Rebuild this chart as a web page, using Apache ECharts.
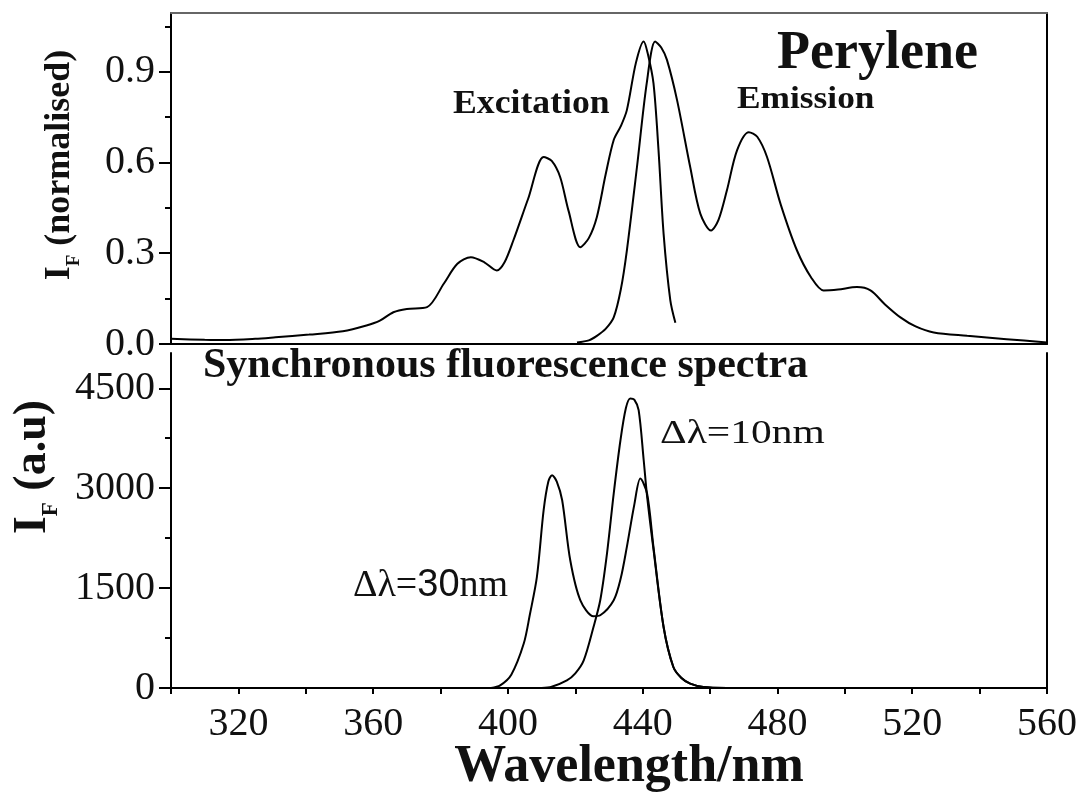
<!DOCTYPE html>
<html>
<head>
<meta charset="utf-8">
<title>Perylene spectra</title>
<script src="https://cdn.jsdelivr.net/npm/echarts@6/dist/echarts.min.js"></script>
<style>
  html, body { margin: 0; padding: 0; background: #fff; }
  #chart { width: 1086px; height: 796px; }
</style>
</head>
<body>
<div id="chart"></div>
<script>
// top panel: normalised excitation / emission (wavelength nm, intensity)
const excitationNm = [300, 310, 316, 325, 331, 341, 351, 358, 362, 366, 370, 376, 381, 385, 389, 393, 396.7, 399, 401.6, 406, 410.6, 413, 415.5, 418, 421.5, 424, 426.4, 429, 431.4, 433.5, 435.3, 438, 440.3, 441.5, 443.2, 444.7, 446.2, 448.2, 449.7];
const excitationVal = [0.017, 0.014, 0.013, 0.017, 0.022, 0.031, 0.042, 0.061, 0.077, 0.105, 0.116, 0.122, 0.2, 0.265, 0.287, 0.27, 0.243, 0.27, 0.342, 0.48, 0.618, 0.605, 0.552, 0.44, 0.32, 0.35, 0.42, 0.56, 0.674, 0.72, 0.773, 0.93, 1.0, 0.96, 0.862, 0.64, 0.365, 0.144, 0.07];

const emissionNm = [420.5, 424, 426.4, 429, 431.4, 433.5, 435.3, 438.3, 441.2, 443.7, 445.5, 447.2, 450.2, 454.1, 457.1, 460.3, 462.5, 465, 468, 471.5, 474, 476.9, 481, 485.8, 490, 493.7, 498, 503.6, 507.6, 512, 516.5, 521, 526.4, 536.3, 548, 560];
const emissionVal = [0.005, 0.012, 0.027, 0.05, 0.088, 0.18, 0.309, 0.585, 0.862, 1.0, 0.98, 0.939, 0.806, 0.585, 0.431, 0.375, 0.41, 0.508, 0.64, 0.7, 0.685, 0.618, 0.46, 0.309, 0.22, 0.177, 0.18, 0.188, 0.177, 0.13, 0.088, 0.058, 0.038, 0.027, 0.016, 0.005];

// bottom panel: synchronous fluorescence (a.u)
const sync30Nm = [395, 397.7, 401, 404.7, 406.5, 408.6, 410.6, 412, 413.1, 414.5, 416.1, 418.5, 421.5, 425.4, 427.4, 431.4, 433.5, 435.3, 437.5, 439.3, 441.3, 443.2, 446.2, 449.1, 451.5, 454.1, 458, 465];
const sync30Val = [0, 40, 200, 667, 1100, 1667, 2669, 3100, 3195, 3100, 2819, 1918, 1317, 1077, 1092, 1317, 1650, 2118, 2750, 3145, 2920, 2118, 916, 315, 150, 66, 15, 0];

const sync10Nm = [410, 413, 417.5, 420, 422.5, 425.4, 427.4, 429.4, 431.4, 433.4, 435, 436.3, 437.5, 438.8, 440.3, 441.3, 443.2, 446.2, 449.1, 451.5, 454.1, 458, 465];
const sync10Val = [0, 20, 115, 220, 415, 916, 1317, 2018, 2920, 3720, 4200, 4347, 4330, 4171, 3420, 2880, 2080, 916, 315, 150, 66, 15, 0];

// tick labels
const xTickLabels = [320, 360, 400, 440, 480, 520, 560];
const topYTicks = [0, 0.3, 0.6, 0.9];
const bottomYTicks = [0, 1500, 3000, 4500];

const serif = 'Liberation Serif';
const ink = '#111';

function pairs(xs, ys) {
  return xs.map((x, i) => [x, ys[i]]);
}

const blackLine = { color: '#000', width: 2 };

function plainAxis(extra) {
  return Object.assign({
    type: 'value',
    axisLine: { onZero: false, lineStyle: blackLine },
    axisTick: { show: false },
    axisLabel: { show: false },
    splitLine: { show: false }
  }, extra);
}

function curve(name, data, xi, yi) {
  return {
    name: name,
    type: 'line',
    xAxisIndex: xi,
    yAxisIndex: yi,
    data: data,
    smooth: 0.3,
    showSymbol: false,
    lineStyle: { color: '#000', width: 2 },
    itemStyle: { color: '#000' },
    z: 3
  };
}

const chart = echarts.init(document.getElementById('chart'));

chart.setOption({
  animation: false,
  backgroundColor: '#fff',
  grid: [
    { left: 171, top: 13, width: 876, height: 331, outerBoundsMode: 'none' },
    { left: 171, top: 353, width: 876, height: 335, outerBoundsMode: 'none' }
  ],
  xAxis: [
    plainAxis({ gridIndex: 0, min: 300, max: 560 }),
    plainAxis({ gridIndex: 0, min: 300, max: 560, position: 'top',
      axisLine: { onZero: false, lineStyle: { color: '#666', width: 2 } } }),
    plainAxis({
      gridIndex: 1, min: 300, max: 560, interval: 20,
      axisTick: { show: true, length: 6, lineStyle: blackLine },
      axisLabel: {
        show: true, customValues: xTickLabels, margin: 16,
        formatter: v => String(v),
        fontSize: 40, fontFamily: serif, color: ink
      }
    })
  ],
  yAxis: [
    plainAxis({
      gridIndex: 0, min: 0, max: 1.094, interval: 0.3,
      axisTick: { show: true, length: 12, customValues: topYTicks, lineStyle: blackLine },
      minorTick: { show: true, splitNumber: 2, length: 6, lineStyle: blackLine },
      axisLabel: {
        show: true, customValues: topYTicks, margin: 16,
        formatter: v => v.toFixed(1),
        fontSize: 40, fontFamily: serif, color: ink
      }
    }),
    plainAxis({ gridIndex: 0, min: 0, max: 1.094, position: 'right' }),
    plainAxis({
      gridIndex: 1, min: 0, max: 5030, interval: 1500,
      axisTick: { show: true, length: 12, customValues: bottomYTicks, lineStyle: blackLine },
      minorTick: { show: true, splitNumber: 2, length: 6, lineStyle: blackLine },
      axisLabel: {
        show: true, customValues: bottomYTicks, margin: 16,
        formatter: v => String(v),
        fontSize: 40, fontFamily: serif, color: ink
      }
    }),
    plainAxis({ gridIndex: 1, min: 0, max: 5030, position: 'right' })
  ],
  series: [
    curve('Excitation', pairs(excitationNm, excitationVal), 0, 0),
    curve('Emission', pairs(emissionNm, emissionVal), 0, 0),
    curve('Δλ=30nm', pairs(sync30Nm, sync30Val), 2, 2),
    curve('Δλ=10nm', pairs(sync10Nm, sync10Val), 2, 2)
  ],
  graphic: [
    { type: 'text', x: 777, y: 54, style: { text: 'Perylene', font: 'bold 54px ' + serif, fill: ink, align: 'left', verticalAlign: 'middle' } },
    { type: 'text', x: 453, y: 104, scaleX: 1.05, style: { text: 'Excitation', font: 'bold 34px ' + serif, fill: ink, align: 'left', verticalAlign: 'middle' } },
    { type: 'text', x: 737, y: 100, scaleX: 1.14, style: { text: 'Emission', font: 'bold 31px ' + serif, fill: ink, align: 'left', verticalAlign: 'middle' } },
    { type: 'text', x: 203, y: 366, style: { text: 'Synchronous fluorescence spectra', font: 'bold 42px ' + serif, fill: ink, align: 'left', verticalAlign: 'middle' } },
    { type: 'text', x: 660, y: 434, scaleX: 1.22, style: { text: 'Δλ=10nm', font: '34px ' + serif, fill: ink, align: 'left', verticalAlign: 'middle' } },
    {
      type: 'text', x: 353, y: 586,
      style: {
        text: '{a|Δλ=}{b|30}{a|nm}', align: 'left', verticalAlign: 'middle',
        rich: {
          a: { fontSize: 38, fontFamily: serif, fill: ink },
          b: { fontSize: 38, fontFamily: 'Liberation Sans', fill: ink }
        }
      }
    },
    { type: 'text', x: 629, y: 768, style: { text: 'Wavelength/nm', font: 'bold 52px ' + serif, fill: ink, align: 'center', verticalAlign: 'middle' } },
    {
      type: 'text', x: 60, y: 165, rotation: Math.PI / 2,
      style: {
        text: '{b|I}{s|F}{b| (normalised)}', align: 'center', verticalAlign: 'middle',
        rich: {
          b: { fontSize: 36, fontWeight: 'bold', fontFamily: serif, fill: ink, lineHeight: 48, verticalAlign: 'middle' },
          s: { fontSize: 19, fontWeight: 'bold', fontFamily: serif, fill: ink, lineHeight: 48, verticalAlign: 'bottom' }
        }
      }
    },
    {
      type: 'text', x: 33, y: 467, rotation: Math.PI / 2,
      style: {
        text: '{b|I}{s|F}{b| (a.u)}', align: 'center', verticalAlign: 'middle',
        rich: {
          b: { fontSize: 46, fontWeight: 'bold', fontFamily: serif, fill: ink, lineHeight: 60, verticalAlign: 'middle' },
          s: { fontSize: 23, fontWeight: 'bold', fontFamily: serif, fill: ink, lineHeight: 60, verticalAlign: 'bottom' }
        }
      }
    }
  ]
});
</script>
</body>
</html>
